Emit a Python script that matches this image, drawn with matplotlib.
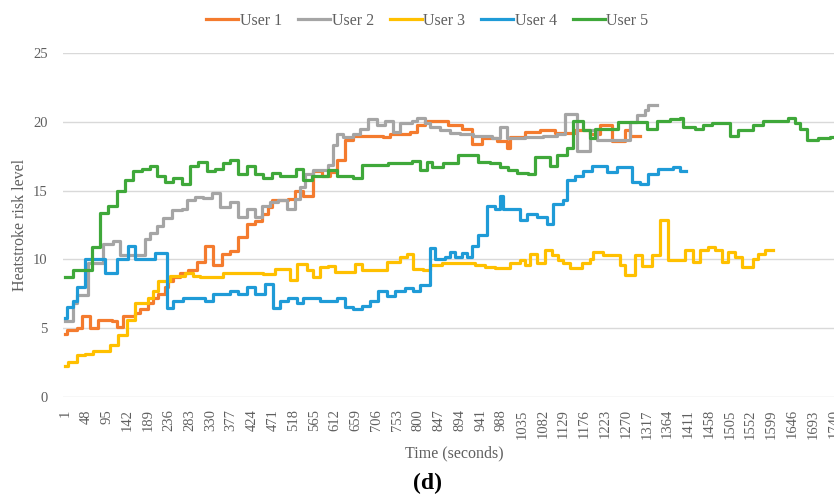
import matplotlib
matplotlib.use("Agg")
import matplotlib.pyplot as plt

# heatstroke risk level per user, stepped over time (seconds)
user1_t = [1, 6, 28, 39, 58, 76, 107, 119, 132, 159, 171, 189, 200, 211, 227, 234, 245, 261, 279, 300,
           318, 336, 356, 374, 392, 413, 431, 447, 460, 469, 505, 521, 539, 562, 582, 600, 616, 634, 652, 720,
           736, 781, 797, 815, 867, 899, 922, 944, 978, 1001, 1008, 1042, 1075, 1109, 1155, 1189, 1211, 1238,
           1268, 1279, 1302]
user1_v = [4.6, 4.85, 5.0, 5.9, 5.0, 5.6, 5.5, 5.05, 5.9, 6.1, 6.4, 6.8, 7.2, 7.5, 8.0, 8.4, 8.7, 9.0, 9.2, 9.8,
           11.0, 9.6, 10.4, 10.6, 11.6, 12.6, 12.8, 13.3, 13.8, 14.3, 14.4, 15.0, 14.6, 16.4, 16.1, 16.35, 17.2,
           18.7, 19.0, 18.9, 19.1, 19.25, 19.75, 20.1, 19.75, 19.5, 18.4, 18.8, 18.6, 18.1, 18.9, 19.3, 19.45,
           19.2, 19.4, 19.1, 19.75, 18.6, 19.4, 19.0, 19.0]

user2_t = [1, 19, 28, 53, 87, 110, 125, 182, 193, 209, 223, 243, 266, 277, 295, 313, 334, 352, 374, 392,
           413, 431, 447, 465, 483, 503, 521, 533, 544, 562, 596, 607, 616, 630, 652, 668, 686, 707, 725, 743,
           759, 786, 797, 815, 827, 849, 872, 895, 924, 967, 985, 1001, 1042, 1082, 1114, 1132, 1159, 1189,
           1205, 1280, 1296, 1313, 1320, 1340]
user2_v = [5.5, 6.8, 7.4, 9.7, 11.15, 11.3, 10.3, 11.5, 11.9, 12.4, 13.0, 13.6, 13.7, 14.3, 14.55, 14.45, 14.8,
           13.8, 14.2, 13.1, 13.7, 13.1, 13.9, 14.2, 14.3, 13.7, 14.4, 15.3, 16.2, 16.5, 16.9, 18.3, 19.1, 18.9,
           19.1, 19.5, 20.2, 19.8, 20.1, 19.25, 19.9, 20.1, 20.3, 19.9, 19.6, 19.4, 19.2, 19.1, 19.0, 18.8, 19.6,
           18.8, 18.9, 19.0, 19.1, 20.6, 17.9, 19.4, 18.7, 20.0, 20.5, 20.9, 21.2, 21.2]

user3_t = [1, 8, 28, 46, 64, 103, 121, 141, 159, 189, 200, 211, 239, 272, 291, 306, 358, 449, 476, 510,
           526, 548, 562, 578, 596, 612, 657, 673, 729, 759, 775, 788, 811, 827, 854, 929, 951, 974, 1008, 1030,
           1042, 1053, 1069, 1087, 1103, 1116, 1127, 1143, 1170, 1189, 1195, 1218, 1256, 1268, 1291, 1306, 1329,
           1347, 1365, 1403, 1422, 1437, 1455, 1471, 1487, 1500, 1516, 1532, 1557, 1569, 1584, 1602]
user3_v = [2.25, 2.5, 3.0, 3.1, 3.35, 3.8, 4.5, 5.6, 6.8, 7.2, 7.7, 8.4, 8.8, 9.0, 8.8, 8.7, 9.0, 8.9, 9.3, 8.5,
           9.65, 9.2, 8.7, 9.45, 9.5, 9.1, 9.65, 9.2, 9.8, 10.2, 10.4, 9.3, 9.2, 9.6, 9.7, 9.6, 9.45, 9.35, 9.7,
           9.95, 9.6, 10.4, 9.7, 10.7, 10.3, 9.95, 9.7, 9.35, 9.7, 10.05, 10.55, 10.3, 9.6, 8.85, 10.3, 9.5, 10.3,
           12.9, 9.95, 10.7, 9.8, 10.7, 10.9, 10.65, 9.8, 10.55, 10.2, 9.45, 10.05, 10.4, 10.65, 10.65]

user4_t = [1, 6, 19, 28, 46, 91, 119, 144, 159, 205, 232, 245, 268, 318, 336, 374, 392, 413, 431, 453,
           471, 487, 505, 526, 539, 578, 616, 634, 652, 673, 691, 709, 729, 747, 770, 788, 804, 827, 838, 860,
           872, 883, 899, 910, 922, 935, 956, 974, 985, 992, 1030, 1046, 1069, 1092, 1105, 1128, 1137, 1155,
           1173, 1193, 1227, 1250, 1284, 1302, 1320, 1343, 1377, 1393, 1406]
user4_v = [5.7, 6.55, 7.0, 8.0, 10.0, 9.0, 10.0, 11.0, 10.0, 10.45, 6.45, 7.0, 7.2, 6.95, 7.5, 7.7, 7.5, 8.0,
           7.5, 8.2, 6.45, 7.0, 7.2, 6.85, 7.15, 6.95, 7.15, 6.55, 6.4, 6.6, 7.0, 7.7, 7.3, 7.7, 7.9, 7.7, 8.1,
           10.8, 10.0, 10.2, 10.5, 10.2, 10.45, 10.2, 11.0, 11.8, 13.9, 13.7, 14.6, 13.7, 12.9, 13.3, 13.1, 12.6,
           14.0, 14.3, 15.75, 16.1, 16.45, 16.8, 16.35, 16.7, 15.6, 15.5, 16.2, 16.6, 16.7, 16.4, 16.4]

user5_t = [1, 19, 61, 80, 98, 119, 137, 155, 175, 193, 209, 227, 245, 266, 284, 302, 322, 340, 358, 374,
           392, 413, 431, 449, 469, 487, 523, 539, 560, 596, 616, 652, 673, 732, 786, 804, 820, 831, 856, 890,
           935, 962, 985, 1003, 1023, 1048, 1064, 1098, 1114, 1137, 1150, 1173, 1189, 1200, 1252, 1318, 1340,
           1370, 1393, 1398, 1427, 1444, 1464, 1505, 1523, 1557, 1580, 1636, 1652, 1664, 1679, 1704, 1731, 1760]
user5_v = [8.7, 9.2, 10.9, 13.4, 13.9, 15.0, 15.8, 16.4, 16.6, 16.8, 16.1, 15.6, 15.9, 15.5, 16.8, 17.1, 16.4,
           16.6, 17.0, 17.2, 16.2, 16.8, 16.2, 15.9, 16.3, 16.1, 16.6, 15.8, 16.1, 16.5, 16.1, 15.9, 16.9, 17.0,
           17.15, 16.5, 17.1, 16.7, 17.0, 17.6, 17.1, 17.0, 16.7, 16.5, 16.3, 16.2, 17.45, 16.8, 17.6, 18.1, 20.1,
           19.4, 18.8, 19.5, 20.0, 19.5, 20.1, 20.2, 20.3, 19.6, 19.5, 19.8, 19.9, 19.0, 19.4, 19.75, 20.05, 20.3,
           19.9, 19.5, 18.7, 18.8, 18.9, 18.9]

labels = ["User 1", "User 2", "User 3", "User 4", "User 5"]
colors = ["#f47b2e", "#a5a5a5", "#ffc000", "#1f9bd7", "#3fa83a"]
time_ticks = list(range(1, 1741, 47))
risk_ticks = [0, 5, 10, 15, 20, 25]

plt.rcParams["font.family"] = ["Liberation Serif", "DejaVu Serif"]

fig = plt.figure(figsize=(8.34, 4.95), dpi=100)
ax = fig.add_axes([63 / 834, 1 - 396.7 / 495, 771 / 834, 343.4 / 495])

series = [(user1_t, user1_v), (user2_t, user2_v), (user3_t, user3_v),
          (user4_t, user4_v), (user5_t, user5_v)]
for (t, v), name, c in zip(series, labels, colors):
    ax.step(t, v, where="post", color=c, lw=2.3, label=name)

ax.set_xlim(-3.5, 1740.5)
ax.set_ylim(0, 25)
ax.set_yticks(risk_ticks)
ax.set_xticks(time_ticks)
ax.set_xticklabels([str(t) for t in time_ticks], rotation=90)
ax.tick_params(length=0, colors="#5f5f5f", labelsize=10.5)
ax.tick_params(axis="x", pad=9)
ax.tick_params(axis="y", pad=11)
ax.grid(axis="y", color="#d9d9d9", lw=1)
ax.set_axisbelow(True)
for s in ax.spines.values():
    s.set_visible(False)

fig.legend(loc="center", bbox_to_anchor=(427.5 / 834, 1 - 20.7 / 495), ncol=5, frameon=False,
           fontsize=11.5, handlelength=2.0, handletextpad=0.1, columnspacing=1.0,
           labelcolor="#5f5f5f")

fig.text(20 / 834, 1 - 225 / 495, "Heatstroke risk level", rotation=90, ha="center", va="center",
         fontsize=11.5, color="#5f5f5f")
fig.text(454 / 834, 1 - 453 / 495, "Time (seconds)", ha="center", va="center",
         fontsize=11.5, color="#5f5f5f")
fig.text(427 / 834, 1 - 483 / 495, "(d)", ha="center", va="center", fontsize=17,
         fontweight="bold", color="black")

fig.savefig("out.png", dpi=100)
